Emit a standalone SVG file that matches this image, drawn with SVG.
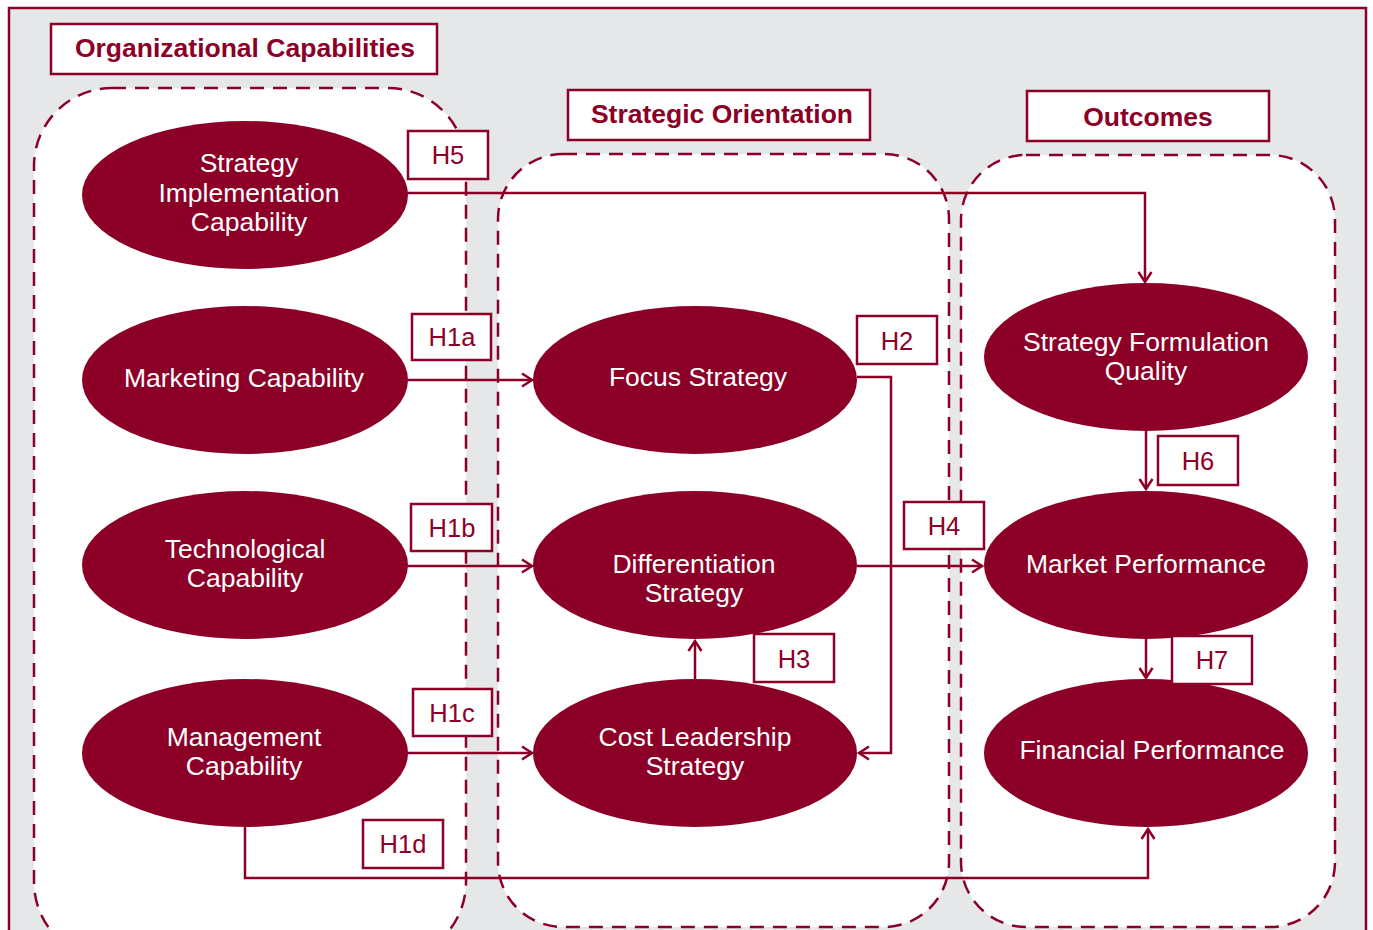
<svg xmlns="http://www.w3.org/2000/svg" width="1373" height="930" viewBox="0 0 1373 930">
<style>
.frame{fill:#e6e7e9;stroke:#8c0027;stroke-width:2.5}
.group{fill:#ffffff;stroke:#8c0027;stroke-width:2.5;stroke-dasharray:14 9}
.title{fill:#ffffff;stroke:#8c0027;stroke-width:2.5}
.title-t{font-family:"Liberation Sans",Arial,sans-serif;font-weight:bold;font-size:26.5px;fill:#8c0027;text-anchor:middle}
.node{fill:#8c0027}
.node-t{font-family:"Liberation Sans",Arial,sans-serif;font-size:26.5px;fill:#ffffff;text-anchor:middle}
.lbl{fill:#ffffff;stroke:#8c0027;stroke-width:2.5}
.lbl-t{font-family:"Liberation Sans",Arial,sans-serif;font-size:25.5px;fill:#8c0027;text-anchor:middle}
.conn{fill:none;stroke:#8c0027;stroke-width:2.5;marker-end:url(#arr)}
</style>
<defs>
<marker id="arr" markerUnits="userSpaceOnUse" markerWidth="16" markerHeight="16" refX="12" refY="8" orient="auto">
<path d="M2,1.5 L12,8 L2,14.5" fill="none" stroke="#8c0027" stroke-width="2.5"/>
</marker>
</defs>
<rect class="frame" x="9" y="8" width="1357" height="940"/>
<g id="group-org">
<rect class="group" x="34" y="88" width="432" height="872" rx="78" ry="78"/>
</g>
<g id="group-strategic">
<rect class="group" x="498" y="154" width="451" height="773" rx="65" ry="65"/>
</g>
<g id="group-outcomes">
<rect class="group" x="961" y="155" width="374" height="772" rx="65" ry="65"/>
</g>
<g id="title-org">
<rect class="title" x="51" y="24" width="386" height="50"/>
<text class="title-t" x="245" y="57">Organizational Capabilities</text>
</g>
<g id="title-strategic">
<rect class="title" x="568" y="90" width="302" height="50"/>
<text class="title-t" x="722" y="123">Strategic Orientation</text>
</g>
<g id="title-outcomes">
<rect class="title" x="1027" y="91" width="242" height="50"/>
<text class="title-t" x="1148" y="126">Outcomes</text>
</g>
<g id="connectors">
<polyline class="conn" points="407,193 1145,193 1145,282"/>
<line class="conn" x1="407" y1="380" x2="532" y2="380"/>
<line class="conn" x1="407" y1="566" x2="532" y2="566"/>
<line class="conn" x1="407" y1="753" x2="532" y2="753"/>
<polyline class="conn" points="245,827 245,878 1148,878 1148,829"/>
<polyline class="conn" points="857,377 891,377 891,753 859,753"/>
<line class="conn" x1="695" y1="680" x2="695" y2="641"/>
<line class="conn" x1="857" y1="566" x2="982" y2="566"/>
<line class="conn" x1="1146" y1="431" x2="1146" y2="489"/>
<line class="conn" x1="1146" y1="639" x2="1146" y2="678"/>
</g>
<g id="node-sic">
<ellipse class="node" cx="245" cy="195" rx="163" ry="74"/>
<text class="node-t" x="249" y="172">Strategy</text>
<text class="node-t" x="249" y="202">Implementation</text>
<text class="node-t" x="249" y="231">Capability</text>
</g>
<g id="node-mc">
<ellipse class="node" cx="245" cy="380" rx="163" ry="74"/>
<text class="node-t" x="244" y="387">Marketing Capability</text>
</g>
<g id="node-tc">
<ellipse class="node" cx="245" cy="565" rx="163" ry="74"/>
<text class="node-t" x="245" y="558">Technological</text>
<text class="node-t" x="245" y="587">Capability</text>
</g>
<g id="node-mgc">
<ellipse class="node" cx="245" cy="753" rx="163" ry="74"/>
<text class="node-t" x="244" y="746">Management</text>
<text class="node-t" x="244" y="775">Capability</text>
</g>
<g id="node-fs">
<ellipse class="node" cx="695" cy="380" rx="162" ry="74"/>
<text class="node-t" x="698" y="386">Focus Strategy</text>
</g>
<g id="node-ds">
<ellipse class="node" cx="695" cy="565" rx="162" ry="74"/>
<text class="node-t" x="694" y="573">Differentiation</text>
<text class="node-t" x="694" y="602">Strategy</text>
</g>
<g id="node-cls">
<ellipse class="node" cx="695" cy="753" rx="162" ry="74"/>
<text class="node-t" x="695" y="746">Cost Leadership</text>
<text class="node-t" x="695" y="775">Strategy</text>
</g>
<g id="node-sfq">
<ellipse class="node" cx="1146" cy="357" rx="162" ry="74"/>
<text class="node-t" x="1146" y="351">Strategy Formulation</text>
<text class="node-t" x="1146" y="380">Quality</text>
</g>
<g id="node-mp">
<ellipse class="node" cx="1146" cy="565" rx="162" ry="74"/>
<text class="node-t" x="1146" y="573">Market Performance</text>
</g>
<g id="node-fp">
<ellipse class="node" cx="1146" cy="753" rx="162" ry="74"/>
<text class="node-t" x="1152" y="759">Financial Performance</text>
</g>
<g id="label-h5"><rect class="lbl" x="408" y="131" width="80" height="48"/><text class="lbl-t" x="448" y="164">H5</text></g>
<g id="label-h1a"><rect class="lbl" x="412" y="314" width="79" height="46"/><text class="lbl-t" x="452" y="346">H1a</text></g>
<g id="label-h1b"><rect class="lbl" x="411" y="504" width="81" height="47"/><text class="lbl-t" x="452" y="537">H1b</text></g>
<g id="label-h1c"><rect class="lbl" x="413" y="689" width="79" height="47"/><text class="lbl-t" x="452" y="722">H1c</text></g>
<g id="label-h1d"><rect class="lbl" x="363" y="820" width="80" height="48"/><text class="lbl-t" x="403" y="853">H1d</text></g>
<g id="label-h2"><rect class="lbl" x="857" y="316" width="80" height="48"/><text class="lbl-t" x="897" y="350">H2</text></g>
<g id="label-h3"><rect class="lbl" x="754" y="634" width="80" height="48"/><text class="lbl-t" x="794" y="668">H3</text></g>
<g id="label-h4"><rect class="lbl" x="904" y="502" width="80" height="47"/><text class="lbl-t" x="944" y="535">H4</text></g>
<g id="label-h6"><rect class="lbl" x="1158" y="436" width="80" height="49"/><text class="lbl-t" x="1198" y="470">H6</text></g>
<g id="label-h7"><rect class="lbl" x="1172" y="636" width="80" height="48"/><text class="lbl-t" x="1212" y="669">H7</text></g>
</svg>
